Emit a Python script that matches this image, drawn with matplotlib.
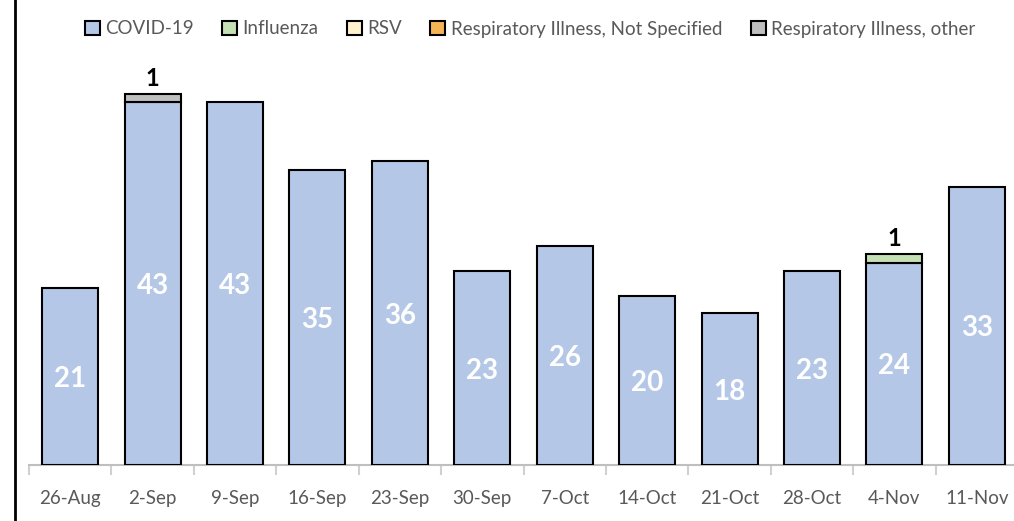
import matplotlib
matplotlib.use("Agg")
import matplotlib.pyplot as plt
from matplotlib.lines import Line2D
import numpy as np

plt.rcParams['font.family'] = ['Lato', 'DejaVu Sans']

weeks = ['26-Aug', '2-Sep', '9-Sep', '16-Sep', '23-Sep', '30-Sep', '7-Oct',
         '14-Oct', '21-Oct', '28-Oct', '4-Nov', '11-Nov']
covid = [21, 43, 43, 35, 36, 23, 26, 20, 18, 23, 24, 33]
influenza = [0, 0, 0, 0, 0, 0, 0, 0, 0, 0, 1, 0]
rsv = [0] * 12
not_specified = [0] * 12
other = [0, 1, 0, 0, 0, 0, 0, 0, 0, 0, 0, 0]

series = [
    ('COVID-19', covid, '#B4C7E7'),
    ('Influenza', influenza, '#C5E0B4'),
    ('RSV', rsv, '#FFF2CC'),
    ('Respiratory Illness, Not Specified', not_specified, '#F4B456'),
    ('Respiratory Illness, other', other, '#BFBFBF'),
]

fig = plt.figure(figsize=(10.14, 5.21), dpi=100)
ax = fig.add_axes([29 / 1014, 1 - 465 / 521, 989 / 1014, 410 / 521])

x = np.arange(len(weeks))
bottom = np.zeros(len(weeks))
handles = []
for name, vals, col in series:
    vals = np.array(vals, dtype=float)
    mask = vals > 0
    ax.bar(x[mask], vals[mask], 0.68, bottom=bottom[mask], color=col,
           edgecolor='black', linewidth=1.5, zorder=3)
    handles.append(plt.Rectangle((0, 0), 1, 1, facecolor=col, edgecolor='black', linewidth=1.5))
    if name == 'COVID-19':
        for xi, v in zip(x, vals):
            ax.text(xi, v / 2 - 0.3, str(int(v)), ha='center', va='center', color='white',
                    fontsize=20, fontweight='bold', zorder=4)
    else:
        for xi, v, b in zip(x[mask], vals[mask], bottom[mask]):
            ax.text(xi, b + v + 0.5, str(int(v)), ha='center', va='bottom', color='black',
                    fontsize=17, fontweight='bold', zorder=4)
    bottom = bottom + vals

ax.set_xlim(-0.5, len(weeks) - 0.5)
ax.set_ylim(0, 48.6)
ax.set_yticks([])
for s in ['top', 'right', 'left']:
    ax.spines[s].set_visible(False)
ax.spines['bottom'].set_color('#BFBFBF')
ax.spines['bottom'].set_linewidth(1.5)

ax.set_xticks(x)
ax.set_xticklabels(weeks, fontsize=13.5, color='#595959')
ax.tick_params(axis='x', length=0, pad=18)
ax.set_xticks(np.arange(-0.5, len(weeks)), minor=True)
ax.tick_params(axis='x', which='minor', length=7, width=1.5, color='#D0D0D0')

leg = fig.legend(handles, [s[0] for s in series], loc='center', bbox_to_anchor=(530 / 1014, 1 - 29 / 521),
                 ncol=5, frameon=False, fontsize=13.5, handlelength=0.8, handleheight=0.8,
                 handletextpad=0.3, columnspacing=1.5)
for t in leg.get_texts():
    t.set_color('#595959')

fig.add_artist(Line2D([15 / 1014, 15 / 1014], [0, 1], color='black', linewidth=2))

fig.savefig('out.png', dpi=100)
